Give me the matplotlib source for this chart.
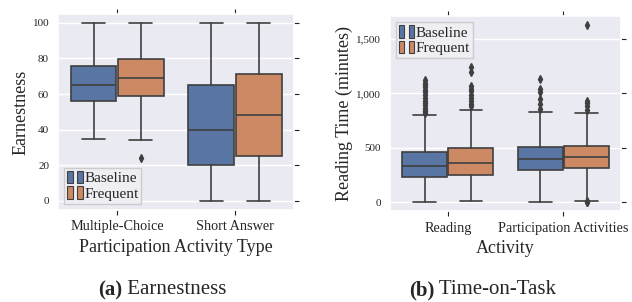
import matplotlib
matplotlib.use("Agg")
import matplotlib.pyplot as plt
from matplotlib.patches import Rectangle
from matplotlib.legend_handler import HandlerTuple
from matplotlib.ticker import FuncFormatter
import seaborn as sns

sns.set_theme(style="darkgrid")
plt.rcParams['font.family'] = ['Liberation Serif', 'DejaVu Serif']

groups = ["Baseline", "Frequent"]
colors = ["#5975A4", "#CC8963"]
edge = "#3F3F3F"

# (a) Earnestness: whislo, q1, med, q3, whishi per group/category
earn_cats = ["Multiple-Choice", "Short Answer"]
earn_base = [[35, 56, 65, 76, 100], [0, 20, 40, 65, 100]]
earn_freq = [[34, 59, 69, 79.5, 100], [0, 25, 48, 71, 100]]
earn_base_fliers = [[], []]
earn_freq_fliers = [[24], []]

# (b) Time-on-Task
time_cats = ["Reading", "Participation Activities"]
time_base = [[5, 228, 335, 458, 800], [0, 292, 393, 512, 827]]
time_freq = [[8, 246, 363, 495, 848], [15, 310, 412, 520, 820]]
time_base_fliers = [
    [820, 835, 850, 870, 890, 910, 935, 960, 985, 1010, 1030, 1055, 1080, 1100, 1120],
    [855, 905, 945, 1010, 1040, 1130],
]
time_freq_fliers = [
    [880, 905, 930, 960, 990, 1020, 1045, 1065, 1195, 1240],
    [0, 5, 10, 850, 880, 910, 935, 1630],
]


def draw(ax, cats, base, freq, bfl, ffl):
    for g, (vals, fl, col) in enumerate([(base, bfl, colors[0]), (freq, ffl, colors[1])]):
        stats = []
        for i in range(len(cats)):
            lo, q1, med, q3, hi = vals[i]
            stats.append(dict(whislo=lo, q1=q1, med=med, q3=q3, whishi=hi, fliers=fl[i]))
        pos = [i - 0.2 + 0.4 * g for i in range(len(cats))]
        ax.bxp(stats, positions=pos, widths=0.39, patch_artist=True, manage_ticks=False,
               boxprops=dict(facecolor=col, edgecolor=edge, linewidth=1.2),
               medianprops=dict(color=edge, linewidth=1.2),
               whiskerprops=dict(color=edge, linewidth=1.2),
               capprops=dict(color=edge, linewidth=1.2),
               flierprops=dict(marker="d", markerfacecolor=edge, markeredgecolor=edge, markersize=4))
    ax.set_xticks(range(len(cats)))
    ax.set_xticklabels(cats)
    ax.set_xlim(-0.5, len(cats) - 0.5)
    ax.xaxis.grid(False)
    ax.tick_params(axis="x", bottom=True, top=True, length=3.5, width=0.8, color="#222222",
                   labelsize=10.3, pad=4)
    ax.tick_params(axis="y", left=False, right=True, length=3.5, width=0.8, color="#222222",
                   labelsize=8, pad=3)
    handles = [(Rectangle((0, 0), 1, 1, facecolor=c, edgecolor=edge, linewidth=0.8),
                Rectangle((0, 0), 1, 1, facecolor=c, edgecolor=edge, linewidth=0.8)) for c in colors]
    return handles


leg_kw = dict(handler_map={tuple: HandlerTuple(ndivide=None, pad=0.3)},
              fontsize=11, handlelength=1.0, handleheight=0.9,
              handletextpad=0.1, borderpad=0.2, labelspacing=0.05, borderaxespad=0.4,
              facecolor="#EEEEF3", edgecolor="#CCCCCC", framealpha=1, fancybox=False)

fig = plt.figure(figsize=(6.32, 3.02), dpi=100)
ax1 = fig.add_axes([0.092, 0.305, 0.373, 0.649])
ax2 = fig.add_axes([0.617, 0.301, 0.366, 0.646])

h = draw(ax1, earn_cats, earn_base, earn_freq, earn_base_fliers, earn_freq_fliers)
ax1.set_ylim(-5, 105)
ax1.set_yticks([0, 20, 40, 60, 80, 100])
ax1.set_ylabel("Earnestness", fontsize=13, labelpad=2)
ax1.set_xlabel("Participation Activity Type", fontsize=13, labelpad=4)
ax1.legend(h, groups, loc="lower left", **leg_kw)

h = draw(ax2, time_cats, time_base, time_freq, time_base_fliers, time_freq_fliers)
ax2.set_ylim(-82, 1712)
ax2.set_yticks([0, 500, 1000, 1500])
ax2.yaxis.set_major_formatter(FuncFormatter(lambda v, p: f"{int(v):,}"))
ax2.set_ylabel("Reading Time (minutes)", fontsize=13, labelpad=2)
ax2.set_xlabel("Activity", fontsize=13, labelpad=4)
ax2.legend(h, groups, loc="upper left", **leg_kw)

# sub-captions with bold labels
r = fig.canvas.get_renderer()
for x0, tag, name in [(98, "(a)", " Earnestness"), (409, "(b)", " Time-on-Task")]:
    t = fig.text(x0 / 632, 1 - 290 / 302, tag, fontsize=15, fontweight="bold", va="center")
    bb = t.get_window_extent(r)
    fig.text(bb.x1 / fig.bbox.width, 1 - 290 / 302, name, fontsize=15, va="center")

fig.savefig("out.png", dpi=100)
